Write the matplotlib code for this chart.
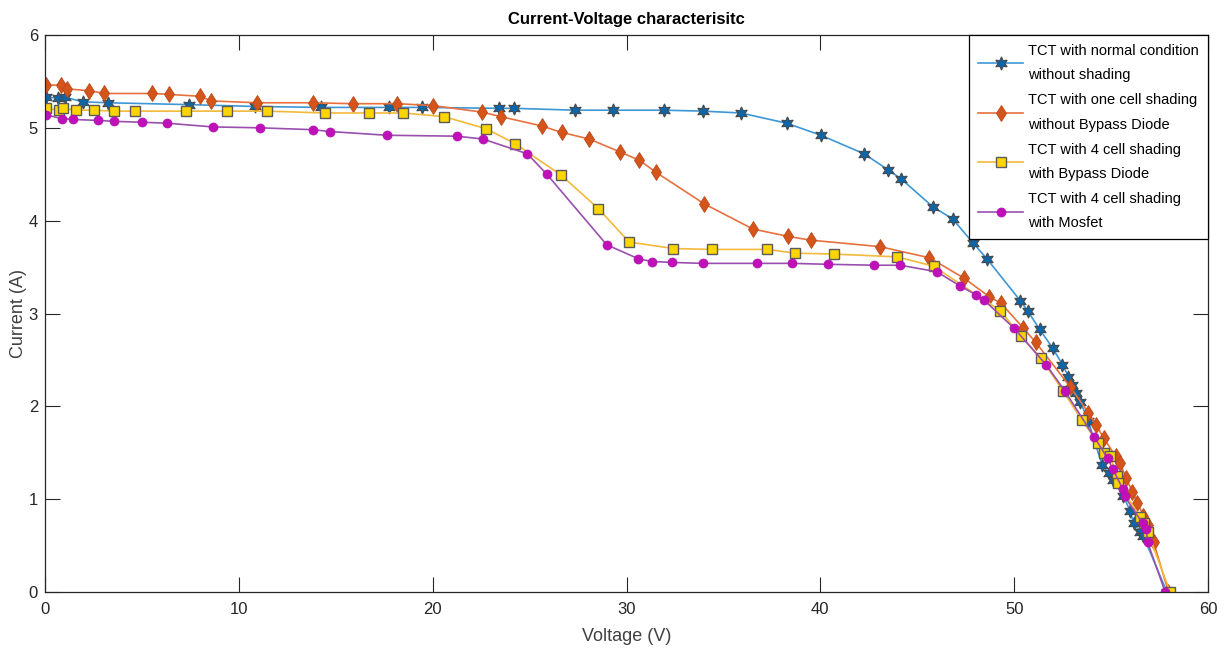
import matplotlib
matplotlib.use("Agg")
import matplotlib.pyplot as plt

plt.rcParams['font.family'] = ['Liberation Sans Narrow', 'Liberation Sans', 'DejaVu Sans']

title = "Current-Voltage characterisitc"
xlabel = "Voltage (V)"
ylabel = "Current (A)"
labels = ["TCT with normal condition\nwithout shading",
          "TCT with one cell shading\nwithout Bypass Diode",
          "TCT with 4 cell shading\nwith Bypass Diode",
          "TCT with 4 cell shading\nwith Mosfet"]

v_normal = [0.05, 0.69, 1.03, 1.94, 3.27, 7.43, 10.84, 14.24, 17.75, 19.44, 23.44, 24.22, 27.35,
            29.29, 31.94, 33.94, 35.90, 38.26, 40.03, 42.26, 43.48, 44.17, 45.80, 46.82, 47.88,
            48.59, 50.31, 50.69, 51.31, 51.98, 52.49, 52.80, 52.98, 53.20, 53.41, 53.83, 54.53,
            54.87, 55.12, 55.64, 55.99, 56.16, 56.50, 56.67, 57.88]
i_normal = [5.33, 5.32, 5.33, 5.28, 5.27, 5.25, 5.23, 5.22, 5.22, 5.22, 5.21, 5.21, 5.19,
            5.19, 5.19, 5.18, 5.16, 5.05, 4.92, 4.72, 4.55, 4.45, 4.15, 4.02, 3.76,
            3.59, 3.14, 3.03, 2.83, 2.63, 2.45, 2.32, 2.23, 2.14, 2.05, 1.84, 1.37,
            1.28, 1.21, 1.03, 0.87, 0.74, 0.65, 0.60, 0.0]

v_one = [0.05, 0.83, 1.12, 2.29, 3.06, 5.54, 6.40, 8.00, 8.57, 10.95, 13.84, 15.88, 18.18, 20.00,
         22.53, 23.53, 25.63, 26.66, 28.07, 29.67, 30.67, 31.53, 34.02, 36.52, 38.35, 39.51,
         43.08, 45.63, 47.42, 48.72, 49.33, 50.48, 51.11, 52.89, 53.83, 54.23, 54.61, 55.24,
         55.47, 55.76, 56.10, 56.36, 56.67, 56.88, 57.19, 57.96]
i_one = [5.46, 5.46, 5.42, 5.40, 5.37, 5.37, 5.36, 5.34, 5.29, 5.27, 5.27, 5.26, 5.26, 5.24,
         5.17, 5.12, 5.02, 4.95, 4.88, 4.74, 4.65, 4.52, 4.18, 3.91, 3.83, 3.79,
         3.72, 3.60, 3.38, 3.18, 3.11, 2.84, 2.69, 2.21, 1.93, 1.80, 1.66, 1.46,
         1.39, 1.23, 1.08, 0.96, 0.82, 0.72, 0.54, 0.0]

v_bypass = [0.05, 0.74, 0.94, 1.58, 2.54, 3.58, 4.64, 7.26, 9.41, 11.44, 14.45, 16.72, 18.49,
            20.60, 22.76, 24.25, 26.63, 28.55, 30.13, 32.42, 34.40, 37.27, 38.70, 40.73, 43.95,
            45.84, 49.28, 50.35, 51.38, 52.51, 53.49, 54.35, 54.61, 54.95, 55.30, 55.38, 56.50,
            56.71, 56.88, 58.05]
i_bypass = [5.21, 5.19, 5.21, 5.19, 5.19, 5.18, 5.18, 5.18, 5.18, 5.18, 5.16, 5.16, 5.16,
            5.12, 4.99, 4.83, 4.49, 4.13, 3.77, 3.70, 3.69, 3.69, 3.65, 3.64, 3.61,
            3.51, 3.03, 2.76, 2.52, 2.17, 1.85, 1.60, 1.50, 1.46, 1.25, 1.17, 0.81,
            0.74, 0.65, 0.0]

v_mosfet = [0.05, 0.86, 1.46, 2.75, 3.56, 5.02, 6.28, 8.65, 11.09, 13.84, 14.71, 17.63, 21.24,
            22.58, 24.89, 25.89, 28.98, 30.61, 31.30, 32.37, 33.94, 36.75, 38.53, 40.39, 42.79,
            44.12, 46.01, 47.18, 48.04, 48.42, 50.00, 51.64, 52.60, 54.13, 54.82, 55.08, 55.60,
            55.70, 56.63, 56.82, 56.88, 57.79]
i_mosfet = [5.14, 5.10, 5.09, 5.08, 5.07, 5.06, 5.05, 5.01, 5.00, 4.98, 4.96, 4.92, 4.91,
            4.88, 4.72, 4.50, 3.74, 3.59, 3.56, 3.55, 3.54, 3.54, 3.54, 3.53, 3.52,
            3.52, 3.45, 3.30, 3.20, 3.15, 2.84, 2.45, 2.17, 1.67, 1.44, 1.33, 1.11,
            1.03, 0.74, 0.68, 0.54, 0.0]

xticks = [0, 10, 20, 30, 40, 50, 60]
yticks = [0, 1, 2, 3, 4, 5, 6]

fig = plt.figure(figsize=(12.24, 6.59), dpi=100)
ax = fig.add_axes([45/1224, 1-592/659, (1208-45)/1224, (592-35)/659])

ax.plot(v_normal, i_normal, color='#3d97d6', lw=1.2, marker=(6, 1, 0), ms=9.5,
        mfc='#0b66aa', mec='#4a4a4a', mew=0.8, label=labels[0])
ax.plot(v_one, i_one, color='#e8703f', lw=1.2, marker='d', ms=8.5,
        mfc='#d4541a', mec='#b84a1a', mew=0.6, label=labels[1])
ax.plot(v_bypass, i_bypass, color='#f2b93a', lw=1.2, marker='s', ms=6.5,
        mfc='#ffd500', mec='#5a5a5a', mew=1.0, label=labels[2])
ax.plot(v_mosfet, i_mosfet, color='#9a4fae', lw=1.2, marker='o', ms=6.5,
        mfc='#c010b8', mec='#b010b0', mew=0.5, label=labels[3])

ax.set_xlim(0, 60)
ax.set_ylim(0, 6)
ax.set_xticks(xticks)
ax.set_yticks(yticks)
ax.tick_params(direction='in', length=11, width=0.8, top=True, right=True,
               labelsize=12, colors='#262626')
ax.tick_params(axis='y', pad=5)
ax.tick_params(axis='x', pad=7)
for s in ax.spines.values():
    s.set_color('#262626')
    s.set_linewidth(0.9)

ax.set_title(title, fontsize=12, fontweight='bold', color='black', pad=8)
ax.set_xlabel(xlabel, fontsize=13, color='#404040', labelpad=8)
ax.set_ylabel(ylabel, fontsize=13, color='#404040', labelpad=1)

leg = ax.legend(loc='upper right', bbox_to_anchor=(1.0, 1.0), borderaxespad=0,
                fancybox=False, edgecolor='black', framealpha=1, fontsize=10.5,
                handlelength=3.1, handletextpad=0.35, labelspacing=0.75,
                borderpad=0.6)
leg.get_frame().set_linewidth(0.9)
for t in leg.get_texts():
    t.set_linespacing(1.95)

fig.savefig("out.png", dpi=100)
